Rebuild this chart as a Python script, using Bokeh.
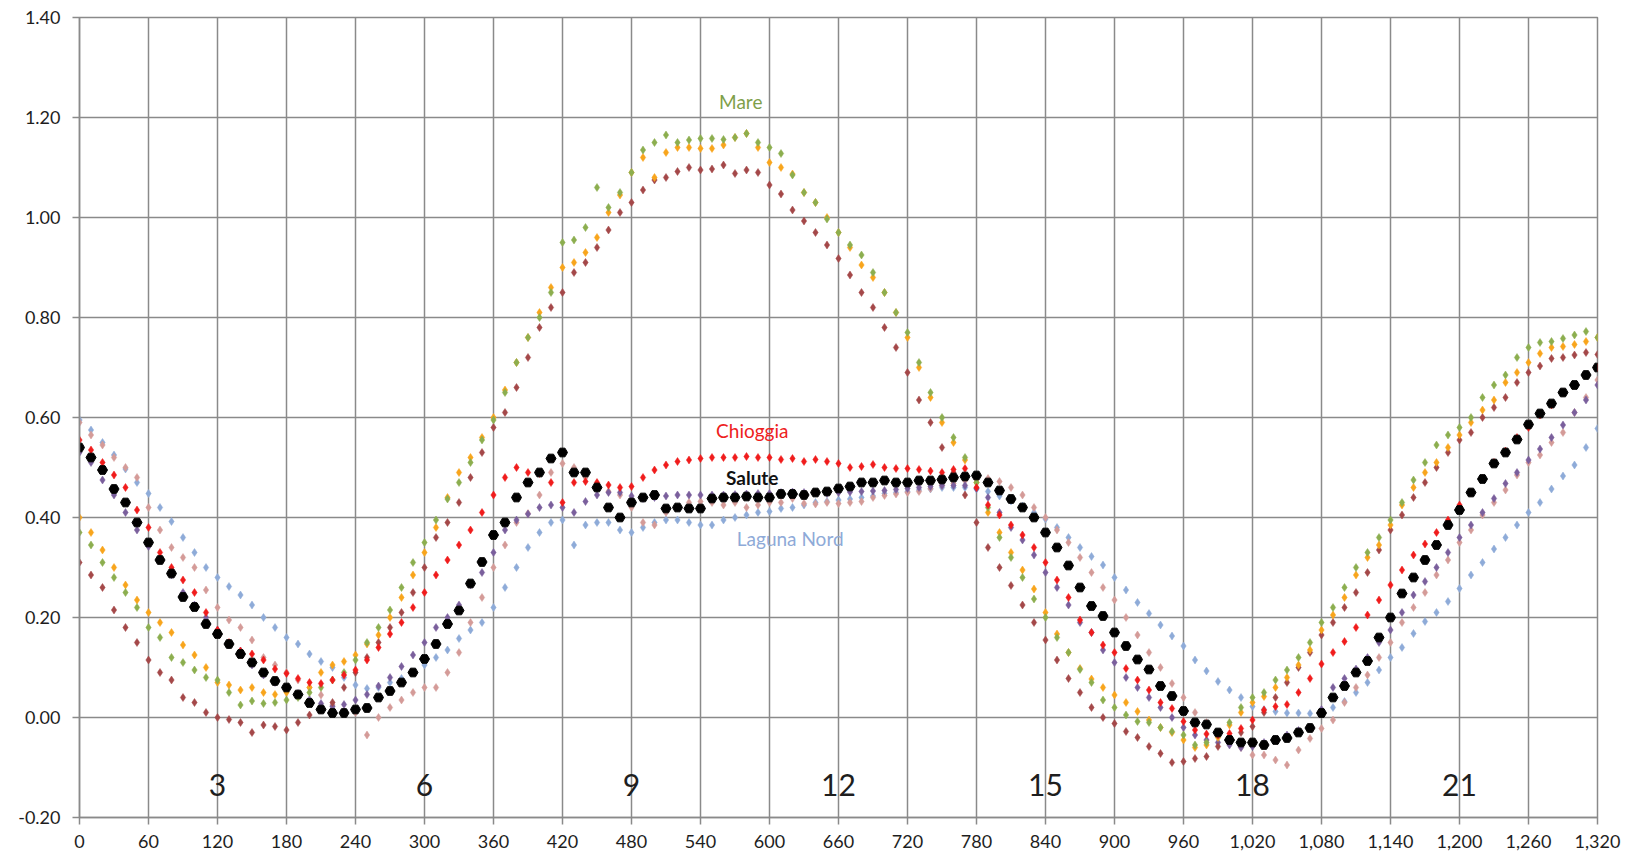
from bokeh.plotting import figure
from bokeh.models import Range1d, FixedTicker, NumeralTickFormatter, ColumnDataSource
from bokeh.core.properties import value
from bokeh.embed import file_html
from bokeh.resources import INLINE

# minutes after midnight, every 10 minutes
MINUTES = list(range(0, 1330, 10))

MARE = [
    0.37, 0.345, 0.31, 0.28, 0.25, 0.22, 0.18, 0.16, 0.12, 0.11,
    0.095, 0.08, 0.075, 0.05, 0.025, 0.033, 0.028, 0.03, 0.035, 0.04,
    0.05, 0.06, 0.075, 0.09, 0.115, 0.15, 0.18, 0.215, 0.26, 0.31,
    0.35, 0.395, 0.437, 0.47, 0.51, 0.555, 0.595, 0.65, 0.71, 0.76,
    0.80, 0.85, 0.95, 0.955, 0.98, 1.06, 1.02, 1.05, 1.09, 1.135,
    1.15, 1.165, 1.15, 1.155, 1.158, 1.158, 1.156, 1.16, 1.168, 1.15,
    1.14, 1.128, 1.085, 1.05, 1.03, 0.997, 0.97, 0.945, 0.925, 0.89,
    0.85, 0.81, 0.77, 0.71, 0.65, 0.60, 0.56, 0.52, 0.47, 0.42,
    0.36, 0.32, 0.28, 0.237, 0.20, 0.16, 0.13, 0.096, 0.07, 0.035,
    0.02, 0.005, -0.008, -0.01, -0.02, -0.028, -0.035, -0.055, -0.05, -0.035,
    -0.01, 0.02, 0.04, 0.05, 0.075, 0.095, 0.12, 0.15, 0.19, 0.22,
    0.26, 0.30, 0.33, 0.36, 0.395, 0.43, 0.475, 0.51, 0.545, 0.565,
    0.58, 0.60, 0.64, 0.665, 0.685, 0.72, 0.74, 0.75, 0.752, 0.758,
    0.765, 0.772, 0.76]

ORANGE = [
    0.40, 0.37, 0.335, 0.30, 0.265, 0.235, 0.21, 0.19, 0.17, 0.145,
    0.125, 0.10, 0.07, 0.065, 0.055, 0.06, 0.05, 0.046, 0.05, 0.046,
    0.06, 0.09, 0.105, 0.112, 0.125, 0.147, 0.165, 0.2, 0.24, 0.285,
    0.33, 0.38, 0.44, 0.49, 0.52, 0.56, 0.60, 0.655, 0.71, 0.76,
    0.81, 0.86, 0.90, 0.91, 0.93, 0.96, 1.01, 1.045, 1.09, 1.12,
    1.08, 1.13, 1.14, 1.14, 1.138, 1.138, 1.145, 1.16, 1.168, 1.14,
    1.11, 1.10, 1.087, 1.05, 1.03, 1.0, 0.97, 0.94, 0.905, 0.88,
    0.85, 0.81, 0.76, 0.70, 0.64, 0.59, 0.55, 0.515, 0.47, 0.41,
    0.37, 0.33, 0.295, 0.257, 0.21, 0.167, 0.13, 0.098, 0.077, 0.06,
    0.045, 0.03, 0.012, -0.005, -0.02, -0.03, -0.045, -0.06, -0.055, -0.04,
    -0.015, 0.01, 0.03, 0.042, 0.06, 0.08, 0.105, 0.135, 0.175, 0.205,
    0.24, 0.285, 0.32, 0.345, 0.385, 0.425, 0.46, 0.49, 0.51, 0.54,
    0.565, 0.59, 0.615, 0.635, 0.67, 0.69, 0.71, 0.728, 0.74, 0.742,
    0.746, 0.752, 0.76]

BROWN = [
    0.31, 0.285, 0.26, 0.215, 0.18, 0.15, 0.115, 0.09, 0.075, 0.04,
    0.03, 0.01, 0.0, -0.004, -0.01, -0.03, -0.015, -0.018, -0.025, -0.01,
    0.005, 0.015, 0.03, 0.06, 0.09, 0.12, 0.15, 0.18, 0.21, 0.25,
    0.30, 0.36, 0.39, 0.43, 0.48, 0.53, 0.58, 0.61, 0.66, 0.72,
    0.78, 0.82, 0.85, 0.89, 0.91, 0.94, 0.975, 1.01, 1.03, 1.055,
    1.075, 1.08, 1.092, 1.10, 1.095, 1.097, 1.105, 1.088, 1.095, 1.09,
    1.065, 1.047, 1.015, 0.993, 0.97, 0.945, 0.918, 0.885, 0.85, 0.82,
    0.78, 0.74, 0.69, 0.635, 0.59, 0.54, 0.49, 0.445, 0.39, 0.34,
    0.30, 0.264, 0.225, 0.19, 0.155, 0.115, 0.078, 0.05, 0.02, 0.0,
    -0.012, -0.028, -0.04, -0.058, -0.072, -0.09, -0.088, -0.082, -0.078, -0.058,
    -0.045, -0.03, -0.018, 0.01, 0.04, 0.07, 0.10, 0.13, 0.165, 0.19,
    0.22, 0.25, 0.29, 0.335, 0.375, 0.405, 0.44, 0.47, 0.50, 0.53,
    0.555, 0.57, 0.60, 0.62, 0.64, 0.67, 0.69, 0.703, 0.718, 0.72,
    0.725, 0.73, 0.726]

CHIOGGIA = [
    0.555, 0.535, 0.51, 0.485, 0.46, 0.415, 0.38, 0.33, 0.30, 0.275,
    0.25, 0.21, 0.175, 0.15, 0.133, 0.127, 0.115, 0.097, 0.088, 0.078,
    0.07, 0.068, 0.075, 0.085, 0.095, 0.115, 0.14, 0.167, 0.19, 0.22,
    0.25, 0.285, 0.315, 0.345, 0.375, 0.41, 0.445, 0.48, 0.50, 0.49,
    0.488, 0.47, 0.43, 0.47, 0.472, 0.47, 0.465, 0.46, 0.462, 0.48,
    0.495, 0.505, 0.512, 0.515, 0.518, 0.52, 0.52, 0.52, 0.522, 0.52,
    0.52, 0.516, 0.518, 0.512, 0.516, 0.512, 0.508, 0.50, 0.502, 0.506,
    0.50, 0.498, 0.498, 0.496, 0.493, 0.49, 0.496, 0.498, 0.46, 0.425,
    0.405, 0.385, 0.365, 0.34, 0.31, 0.275, 0.24, 0.195, 0.17, 0.145,
    0.13, 0.098, 0.075, 0.055, 0.03, 0.018, -0.008, -0.025, -0.033, -0.035,
    -0.032, -0.022, -0.005, 0.015, 0.022, 0.026, 0.05, 0.078, 0.107, 0.13,
    0.152, 0.18, 0.205, 0.235, 0.265, 0.295, 0.325, 0.347, 0.37, 0.395,
    0.425, 0.45, 0.478, 0.51, 0.533, 0.56, 0.58, 0.605, 0.625, 0.65,
    0.665, 0.685, 0.70]

SALUTE = [
    0.54, 0.52, 0.495, 0.457, 0.43, 0.39, 0.35, 0.315, 0.288, 0.241,
    0.221, 0.187, 0.167, 0.147, 0.127, 0.11, 0.09, 0.073, 0.06, 0.046,
    0.029, 0.016, 0.009, 0.009, 0.016, 0.019, 0.04, 0.053, 0.07, 0.09,
    0.117, 0.147, 0.187, 0.214, 0.268, 0.311, 0.365, 0.39, 0.44, 0.47,
    0.49, 0.518, 0.53, 0.49, 0.49, 0.46, 0.42, 0.40, 0.43, 0.44,
    0.445, 0.418, 0.42, 0.418, 0.418, 0.438, 0.44, 0.44, 0.442, 0.44,
    0.44, 0.447, 0.447, 0.445, 0.45, 0.452, 0.458, 0.462, 0.47, 0.47,
    0.474, 0.47, 0.47, 0.474, 0.474, 0.476, 0.48, 0.482, 0.484, 0.47,
    0.454, 0.437, 0.42, 0.40, 0.37, 0.34, 0.304, 0.26, 0.223, 0.203,
    0.17, 0.143, 0.116, 0.096, 0.063, 0.043, 0.013, -0.01, -0.014, -0.03,
    -0.045, -0.05, -0.05, -0.055, -0.045, -0.041, -0.03, -0.021, 0.009, 0.04,
    0.063, 0.09, 0.113, 0.16, 0.2, 0.248, 0.28, 0.315, 0.345, 0.385,
    0.415, 0.45, 0.477, 0.508, 0.53, 0.556, 0.586, 0.608, 0.628, 0.65,
    0.665, 0.685, 0.70]

PURPLE = [
    0.53, 0.51, 0.475, 0.445, 0.41, 0.375, 0.342, 0.315, 0.285, 0.25,
    0.225, 0.20, 0.175, 0.145, 0.133, 0.105, 0.085, 0.07, 0.058, 0.048,
    0.036, 0.028, 0.022, 0.026, 0.035, 0.046, 0.063, 0.08, 0.102, 0.125,
    0.15, 0.18, 0.20, 0.225, 0.265, 0.29, 0.33, 0.375, 0.395, 0.407,
    0.42, 0.425, 0.42, 0.41, 0.432, 0.445, 0.45, 0.45, 0.443, 0.438,
    0.44, 0.443, 0.445, 0.445, 0.445, 0.445, 0.445, 0.446, 0.447, 0.448,
    0.448, 0.45, 0.451, 0.45, 0.45, 0.448, 0.45, 0.451, 0.452, 0.453,
    0.454, 0.456, 0.458, 0.46, 0.462, 0.464, 0.464, 0.464, 0.458, 0.44,
    0.41, 0.38, 0.355, 0.325, 0.29, 0.26, 0.225, 0.19, 0.17, 0.135,
    0.11, 0.08, 0.06, 0.04, 0.02, 0.0, -0.02, -0.035, -0.045, -0.05,
    -0.055, -0.06, -0.058, -0.05, -0.043, -0.035, -0.026, -0.02, 0.016, 0.06,
    0.078, 0.097, 0.12, 0.15, 0.175, 0.21, 0.245, 0.272, 0.30, 0.33,
    0.36, 0.385, 0.41, 0.438, 0.468, 0.49, 0.515, 0.537, 0.56, 0.585,
    0.61, 0.635, 0.665]

PINK = [
    0.59, 0.565, 0.545, 0.52, 0.50, 0.48, 0.42, 0.375, 0.34, 0.32,
    0.30, 0.255, 0.22, 0.195, 0.18, 0.155, 0.12, 0.105, 0.09, 0.075,
    0.06, 0.045, 0.025, 0.012, 0.01, -0.035, 0.0, 0.02, 0.035, 0.05,
    0.06, 0.06, 0.09, 0.13, 0.19, 0.24, 0.30, 0.345, 0.39, 0.408,
    0.445, 0.49, 0.508, 0.50, 0.48, 0.468, 0.452, 0.445, 0.42, 0.39,
    0.385, 0.41, 0.42, 0.43, 0.432, 0.43, 0.425, 0.43, 0.42, 0.425,
    0.43, 0.43, 0.438, 0.428, 0.427, 0.43, 0.428, 0.43, 0.432, 0.44,
    0.444, 0.447, 0.45, 0.452, 0.458, 0.464, 0.468, 0.474, 0.477, 0.478,
    0.472, 0.46, 0.445, 0.42, 0.40, 0.375, 0.35, 0.32, 0.29, 0.26,
    0.235, 0.20, 0.165, 0.13, 0.10, 0.068, 0.04, 0.01, -0.01, -0.03,
    -0.045, -0.06, -0.075, -0.075, -0.085, -0.095, -0.065, -0.042, -0.022, -0.005,
    0.03, 0.06, 0.085, 0.12, 0.15, 0.19, 0.22, 0.25, 0.285, 0.315,
    0.35, 0.375, 0.405, 0.43, 0.455, 0.485, 0.51, 0.525, 0.55, 0.57,
    0.61, 0.64, 0.675]

LAGUNA_NORD = [
    0.595, 0.575, 0.55, 0.525, 0.497, 0.47, 0.448, 0.42, 0.392, 0.36,
    0.33, 0.30, 0.28, 0.262, 0.245, 0.225, 0.20, 0.18, 0.16, 0.147,
    0.127, 0.112, 0.10, 0.08, 0.065, 0.058, 0.06, 0.07, 0.078, 0.09,
    0.105, 0.12, 0.135, 0.158, 0.175, 0.19, 0.22, 0.26, 0.30, 0.34,
    0.37, 0.39, 0.395, 0.345, 0.385, 0.39, 0.39, 0.375, 0.37, 0.38,
    0.39, 0.395, 0.395, 0.39, 0.385, 0.385, 0.395, 0.40, 0.405, 0.41,
    0.412, 0.418, 0.42, 0.425, 0.43, 0.432, 0.435, 0.437, 0.44, 0.443,
    0.448, 0.45, 0.452, 0.455, 0.457, 0.46, 0.46, 0.46, 0.457, 0.452,
    0.443, 0.433, 0.423, 0.41, 0.397, 0.38, 0.36, 0.34, 0.322, 0.305,
    0.28, 0.255, 0.23, 0.208, 0.185, 0.163, 0.143, 0.115, 0.093, 0.072,
    0.055, 0.04, 0.022, 0.016, 0.012, 0.009, 0.009, 0.008, 0.01, 0.02,
    0.032, 0.05, 0.07, 0.095, 0.12, 0.14, 0.168, 0.192, 0.21, 0.232,
    0.258, 0.285, 0.31, 0.337, 0.36, 0.385, 0.41, 0.43, 0.457, 0.483,
    0.505, 0.54, 0.578]

X_TICKS = [0, 60, 120, 180, 240, 300, 360, 420, 480, 540, 600, 660, 720,
           780, 840, 900, 960, 1020, 1080, 1140, 1200, 1260, 1320]
Y_TICKS = [-0.2, 0.0, 0.2, 0.4, 0.6, 0.8, 1.0, 1.2, 1.4]

HOUR_X = [120, 300, 480, 660, 840, 1020, 1200]
HOUR_TEXT = ["3", "6", "9", "12", "15", "18", "21"]
HOUR_Y = [-0.134] * 7

SERIES_LABELS = ["Mare", "Chioggia", "Salute", "Laguna Nord"]
SERIES_LABEL_X = [575, 585, 585, 618]
SERIES_LABEL_Y = [1.232, 0.574, 0.48, 0.358]

GRID = "#8a8a8a"
FONT = "Lato"

p = figure(width=1621, height=856, x_range=Range1d(0, 1320), y_range=Range1d(-0.2, 1.4),
           output_backend="svg", toolbar_location=None,
           min_border_left=79, min_border_right=24, min_border_top=17, min_border_bottom=39)
p.background_fill_color = "white"
p.border_fill_color = "white"
p.outline_line_color = GRID
p.outline_line_width = 1.5

for ax in (p.xaxis[0], p.yaxis[0]):
    ax.axis_line_color = GRID
    ax.axis_line_width = 1.5
    ax.major_tick_line_color = GRID
    ax.major_tick_line_width = 1.5
    ax.major_tick_out = 7
    ax.major_tick_in = 0
    ax.minor_tick_line_color = None
    ax.major_label_text_font = FONT
    ax.major_label_text_font_size = "18px"
    ax.major_label_text_color = "#1e1e1e"

p.xaxis.ticker = FixedTicker(ticks=X_TICKS)
p.yaxis.ticker = FixedTicker(ticks=Y_TICKS)
p.xaxis.formatter = NumeralTickFormatter(format="0,0")
p.yaxis.formatter = NumeralTickFormatter(format="0.00")
p.xaxis.major_label_standoff = 10
p.yaxis.major_label_standoff = 12

p.xgrid.ticker = FixedTicker(ticks=X_TICKS)
p.ygrid.ticker = FixedTicker(ticks=Y_TICKS)
for g in (p.xgrid[0], p.ygrid[0]):
    g.grid_line_color = GRID
    g.grid_line_width = 1.5

src = ColumnDataSource(dict(x=MINUTES, mare=MARE, orange=ORANGE, brown=BROWN,
                            chioggia=CHIOGGIA, salute=SALUTE, purple=PURPLE,
                            pink=PINK, laguna=LAGUNA_NORD))

styles = [
    ("laguna", "#8eabd8"),
    ("pink", "#d49b98"),
    ("purple", "#7a5f9c"),
    ("brown", "#a44849"),
    ("orange", "#f8a51c"),
    ("mare", "#8cae4f"),
    ("chioggia", "#f01c1c"),
]
for col, color in styles:
    p.scatter(x="x", y=col, source=src, marker="diamond", size=8,
              fill_color=color, line_color=color, line_width=0.5)

p.scatter(x="x", y="salute", source=src, marker="hex", size=10,
          fill_color="black", line_color="black")

p.text(x=HOUR_X, y=HOUR_Y, text=HOUR_TEXT, text_font=value(FONT),
       text_font_size="30px", text_color="#1e1e1e",
       text_align="center", text_baseline="middle")

label_colors = ["#7f9f4a", "#ee2020", "#111111", "#8eaad8"]
label_styles = ["normal", "normal", "bold", "normal"]
for i in range(4):
    p.text(x=[SERIES_LABEL_X[i]], y=[SERIES_LABEL_Y[i]], text=[SERIES_LABELS[i]],
           text_font=value(FONT), text_font_size="19px",
           text_color=label_colors[i], text_font_style=label_styles[i],
           text_align="center", text_baseline="middle")

open("out.html", "w").write(file_html(p, INLINE))
